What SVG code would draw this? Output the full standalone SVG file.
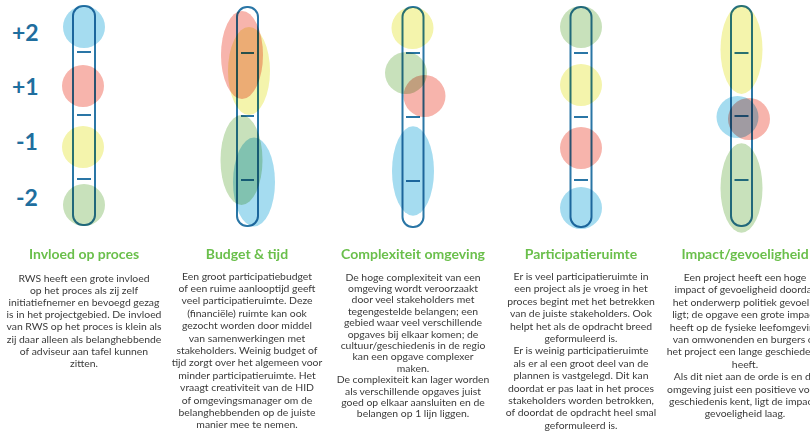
<svg xmlns="http://www.w3.org/2000/svg" width="810" height="434" viewBox="0 0 810 434">
<style>
.bar{fill:none;stroke:#2a76a6;stroke-width:2}
.tick{stroke:#2a76a6;stroke-width:2}
.b{fill:#a5dcf0;mix-blend-mode:multiply}
.r{fill:#f7b4ac;mix-blend-mode:multiply}
.y{fill:#f4f4ac;mix-blend-mode:multiply}
.g{fill:#c8e1bb;mix-blend-mode:multiply}
.num{font-family:Lato,"Liberation Sans",sans-serif;font-weight:bold;font-size:23px;fill:#1f6e9e}
.h{font-family:Lato,"Liberation Sans",sans-serif;font-weight:bold;font-size:14px;fill:#6abf4b;text-anchor:middle}
.t{font-family:Lato,"Liberation Sans",sans-serif;font-size:10.4px;fill:#3a3a3a;text-anchor:middle}
</style>
<rect width="810" height="434" fill="#ffffff"/>
<g id="scale">
<text class="num" x="12" y="41">+2</text>
<text class="num" x="12" y="95">+1</text>
<text class="num" x="16" y="150">-1</text>
<text class="num" x="16" y="206">-2</text>
</g>
<g id="col1" style="isolation:isolate">
<rect class="bar" x="73" y="6" width="22" height="219" rx="10"/>
<line class="tick" x1="77" y1="52" x2="91" y2="52"/>
<line class="tick" x1="77" y1="115" x2="91" y2="115"/>
<line class="tick" x1="77" y1="179" x2="91" y2="179"/>
<circle class="b" cx="84" cy="27" r="21"/>
<circle class="r" cx="83" cy="86" r="21"/>
<circle class="y" cx="83" cy="147" r="21"/>
<circle class="g" cx="84" cy="205" r="21"/>
<text class="h" x="84" y="259">Invloed op proces</text>
<text class="t" x="84" y="281.5">RWS heeft een grote invloed</text>
<text class="t" x="84" y="293.7">op het proces als zij zelf</text>
<text class="t" x="84" y="305.9">initiatiefnemer en bevoegd gezag</text>
<text class="t" x="84" y="318.1">is in het projectgebied. De invloed</text>
<text class="t" x="84" y="330.3">van RWS op het proces is klein als</text>
<text class="t" x="84" y="342.5">zij daar alleen als belanghebbende</text>
<text class="t" x="84" y="354.7">of adviseur aan tafel kunnen</text>
<text class="t" x="84" y="366.9">zitten.</text>
</g>
<g id="col2" style="isolation:isolate">
<rect class="bar" x="237" y="7" width="21" height="219" rx="10"/>
<line class="tick" x1="241" y1="53" x2="254" y2="53"/>
<line class="tick" x1="241" y1="116" x2="254" y2="116"/>
<line class="tick" x1="241" y1="180" x2="254" y2="180"/>
<ellipse class="r" cx="242" cy="55" rx="21" ry="44"/>
<ellipse class="y" cx="249" cy="71" rx="21" ry="44"/>
<ellipse class="g" cx="241.5" cy="160" rx="21" ry="45"/>
<ellipse class="b" cx="254" cy="182" rx="21" ry="44.5"/>
<text class="h" x="247" y="259">Budget &amp; tijd</text>
<text class="t" x="247" y="279.5">Een groot participatiebudget</text>
<text class="t" x="247" y="291.9">of een ruime aanlooptijd geeft</text>
<text class="t" x="247" y="304.3">veel participatieruimte. Deze</text>
<text class="t" x="247" y="316.7">(financiële) ruimte kan ook</text>
<text class="t" x="247" y="329.1">gezocht worden door middel</text>
<text class="t" x="247" y="341.5">van samenwerkingen met</text>
<text class="t" x="247" y="353.9">stakeholders. Weinig budget of</text>
<text class="t" x="247" y="366.3">tijd zorgt over het algemeen voor</text>
<text class="t" x="247" y="378.7">minder participatieruimte. Het</text>
<text class="t" x="247" y="391.1">vraagt creativiteit van de HID</text>
<text class="t" x="247" y="403.5">of omgevingsmanager om de</text>
<text class="t" x="247" y="415.9">belanghebbenden op de juiste</text>
<text class="t" x="247" y="428.3">manier mee te nemen.</text>
</g>
<g id="col3" style="isolation:isolate">
<rect class="bar" x="402.5" y="7" width="21" height="220" rx="10"/>
<line class="tick" x1="406" y1="53" x2="420" y2="53"/>
<line class="tick" x1="406" y1="117" x2="420" y2="117"/>
<line class="tick" x1="406" y1="181" x2="420" y2="181"/>
<circle class="y" cx="412.5" cy="28" r="21"/>
<circle class="g" cx="406" cy="73" r="21"/>
<circle class="r" cx="424.5" cy="96" r="21"/>
<ellipse class="b" cx="413" cy="171" rx="21" ry="44.7"/>
<text class="h" x="413" y="259">Complexiteit omgeving</text>
<text class="t" x="413" y="280.5">De hoge complexiteit van een</text>
<text class="t" x="413" y="291.9">omgeving wordt veroorzaakt</text>
<text class="t" x="413" y="303.3">door veel stakeholders met</text>
<text class="t" x="413" y="314.7">tegengestelde belangen; een</text>
<text class="t" x="413" y="326.1">gebied waar veel verschillende</text>
<text class="t" x="413" y="337.5">opgaves bij elkaar komen; de</text>
<text class="t" x="413" y="348.9">cultuur/geschiedenis in de regio</text>
<text class="t" x="413" y="360.3">kan een opgave complexer</text>
<text class="t" x="413" y="371.7">maken.</text>
<text class="t" x="413" y="383.1">De complexiteit kan lager worden</text>
<text class="t" x="413" y="394.5">als verschillende opgaves juist</text>
<text class="t" x="413" y="405.9">goed op elkaar aansluiten en de</text>
<text class="t" x="413" y="417.3">belangen op 1 lijn liggen.</text>
</g>
<g id="col4" style="isolation:isolate">
<rect class="bar" x="570.5" y="7" width="21" height="220" rx="10"/>
<line class="tick" x1="574" y1="53" x2="588" y2="53"/>
<line class="tick" x1="574" y1="117" x2="588" y2="117"/>
<line class="tick" x1="574" y1="180" x2="588" y2="180"/>
<circle class="g" cx="581" cy="27" r="21"/>
<circle class="y" cx="581" cy="85" r="21"/>
<circle class="r" cx="581" cy="148" r="21"/>
<circle class="b" cx="581" cy="208" r="21"/>
<text class="h" x="581" y="259">Participatieruimte</text>
<text class="t" x="581" y="280">Er is veel participatieruimte in</text>
<text class="t" x="581" y="292.4">een project als je vroeg in het</text>
<text class="t" x="581" y="304.8">proces begint met het betrekken</text>
<text class="t" x="581" y="317.2">van de juiste stakeholders. Ook</text>
<text class="t" x="581" y="329.6">helpt het als de opdracht breed</text>
<text class="t" x="581" y="342">geformuleerd is.</text>
<text class="t" x="581" y="354.4">Er is weinig participatieruimte</text>
<text class="t" x="581" y="366.8">als er al een groot deel van de</text>
<text class="t" x="581" y="379.2">plannen is vastgelegd. Dit kan</text>
<text class="t" x="581" y="391.6">doordat er pas laat in het proces</text>
<text class="t" x="581" y="404">stakeholders worden betrokken,</text>
<text class="t" x="581" y="416.4">of doordat de opdracht heel smal</text>
<text class="t" x="581" y="428.8">geformuleerd is.</text>
</g>
<g id="col5" style="isolation:isolate">
<rect class="bar" x="731" y="6" width="21" height="220" rx="10"/>
<line class="tick" x1="734.5" y1="53" x2="748.5" y2="53"/>
<line class="tick" x1="734.5" y1="116" x2="748.5" y2="116"/>
<line class="tick" x1="734.5" y1="180" x2="748.5" y2="180"/>
<ellipse class="y" cx="741.5" cy="49.5" rx="21" ry="44.5"/>
<circle class="b" cx="737.5" cy="117" r="21"/>
<circle class="r" cx="749" cy="119" r="21"/>
<ellipse class="g" cx="741.5" cy="188" rx="21" ry="44.7"/>
<text class="h" x="745" y="259">Impact/gevoeligheid</text>
<text class="t" x="745" y="281">Een project heeft een hoge</text>
<text class="t" x="745" y="293.4">impact of gevoeligheid doordat</text>
<text class="t" x="745" y="305.8">het onderwerp politiek gevoelig</text>
<text class="t" x="745" y="318.2">ligt; de opgave een grote impact</text>
<text class="t" x="745" y="330.6">heeft op de fysieke leefomgeving</text>
<text class="t" x="745" y="343">van omwonenden en burgers of</text>
<text class="t" x="745" y="355.4">het project een lange geschiedenis</text>
<text class="t" x="745" y="367.8">heeft.</text>
<text class="t" x="745" y="380.2">Als dit niet aan de orde is en de</text>
<text class="t" x="745" y="392.6">omgeving juist een positieve voor-</text>
<text class="t" x="745" y="405">geschiedenis kent, ligt de impact/</text>
<text class="t" x="745" y="417.4">gevoeligheid laag.</text>
</g>
<g id="connectors"/>
</svg>
